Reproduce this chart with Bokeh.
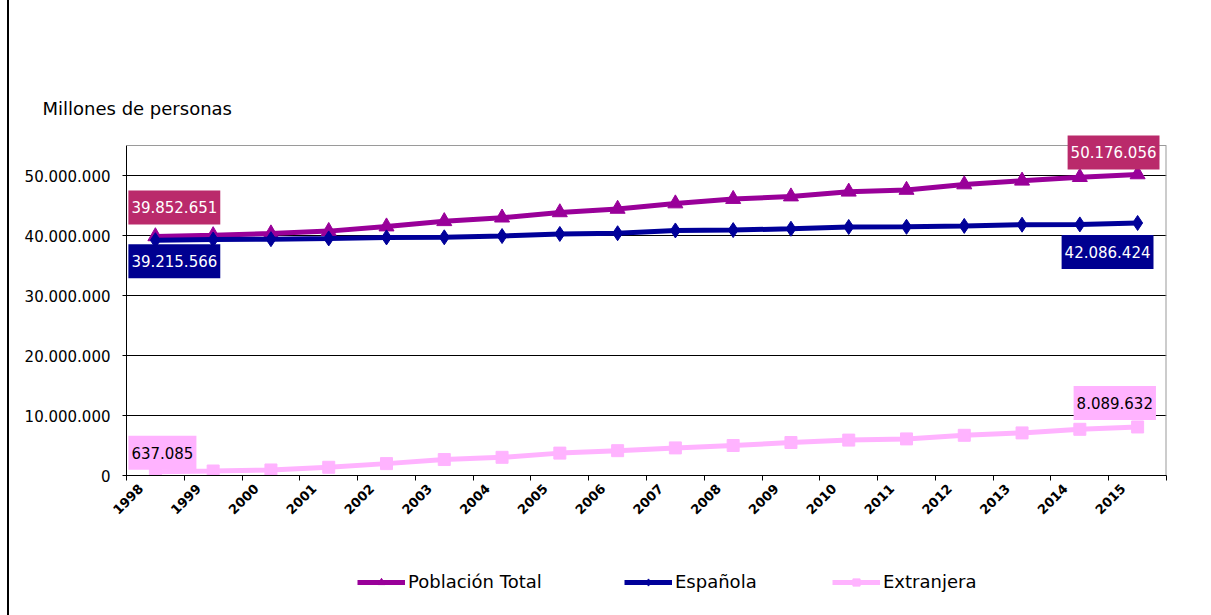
import math
from bokeh.plotting import figure
from bokeh.models import (FixedTicker, Label, Legend, LegendItem, Div, Range1d, Span, Title)
from bokeh.layouts import row, column
from bokeh.embed import file_html
from bokeh.resources import INLINE

# ---- data ----
years = [1998, 1999, 2000, 2001, 2002, 2003, 2004, 2005, 2006,
         2007, 2008, 2009, 2010, 2011, 2012, 2013, 2014, 2015]
year_labels = ["1998", "1999", "2000", "2001", "2002", "2003", "2004", "2005", "2006",
               "2007", "2008", "2009", "2010", "2011", "2012", "2013", "2014", "2015"]
total = [39852651, 40030000, 40330000, 40730000, 41490000, 42370000, 42970000, 43850000,
         44430000, 45330000, 46070000, 46490000, 47290000, 47590000, 48500000, 49120000,
         49720000, 50176056]
espanola = [39215566, 39330000, 39390000, 39510000, 39680000, 39700000, 39910000, 40260000,
            40380000, 40840000, 40900000, 41130000, 41420000, 41450000, 41600000, 41800000,
            41850000, 42086424]
extranjera = [637085, 750000, 920000, 1370000, 1980000, 2660000, 3030000, 3730000,
              4140000, 4600000, 5000000, 5500000, 5900000, 6100000, 6700000, 7100000,
              7700000, 8089632]
y_ticks = [0, 10000000, 20000000, 30000000, 40000000, 50000000]
y_axis_max = 55000000
series_names = ["Población Total", "Española", "Extranjera"]
y_title = "Millones de personas"

FONT = "DejaVu Sans"
C_TOTAL = "#990099"
C_ESP = "#000099"
C_EXT = "#FFB3FF"
C_TOTAL_LBL = "#BA2A6B"
C_ESP_LBL = "#000090"
C_BORDER = "#9A9A9A"


def fmt(v):
    return f"{int(v):,}".replace(",", ".")


DIV_W = 9
FRAME_LEFT = 126
FRAME_TOP = 130
FRAME_BOTTOM = 475
MAIN_H = 570
LEG_H = 615 - MAIN_H
px_per_unit = (FRAME_BOTTOM - 145) / y_axis_max
y_top = (FRAME_BOTTOM - FRAME_TOP) / px_per_unit

p = figure(width=1211 - DIV_W, height=MAIN_H, output_backend="svg", toolbar_location=None,
           x_range=Range1d(years[0] - 0.5, years[-1] + 0.5),
           y_range=Range1d(0, y_top),
           min_border_left=FRAME_LEFT - DIV_W, min_border_right=45,
           min_border_top=FRAME_TOP, min_border_bottom=MAIN_H - FRAME_BOTTOM)
p.background_fill_color = "white"
p.border_fill_color = "white"
p.outline_line_color = None

# title (above the plot, left side)
p.add_layout(Title(text=y_title, align="left", offset=42 - FRAME_LEFT, standoff=24,
                   text_font=FONT, text_font_size="18px", text_font_style="normal",
                   text_color="black"), "above")

# axes
p.xaxis.ticker = FixedTicker(ticks=[y - 0.25 for y in years],
                             minor_ticks=[y - 0.5 for y in years] + [years[-1] + 0.5])
p.xaxis.major_label_overrides = {y - 0.25: lab for y, lab in zip(years, year_labels)}
p.xaxis.major_label_orientation = math.pi / 4
p.xaxis.major_tick_in = 0
p.xaxis.major_tick_out = 0
p.xaxis.minor_tick_in = 0
p.xaxis.minor_tick_out = 5
p.xaxis.minor_tick_line_color = "black"
p.xaxis.axis_line_color = "black"
p.xaxis.major_label_standoff = 6
p.xaxis.major_label_text_font = FONT
p.xaxis.major_label_text_font_size = "13px"
p.xaxis.major_label_text_font_style = "bold"
p.xaxis.major_label_text_color = "black"

p.yaxis.ticker = FixedTicker(ticks=y_ticks)
p.yaxis.bounds = (0, y_axis_max)
p.yaxis.major_label_overrides = {t: fmt(t) for t in y_ticks}
p.yaxis.minor_tick_line_color = None
p.yaxis.major_tick_in = 4
p.yaxis.major_tick_out = 4
p.yaxis.major_tick_line_color = "black"
p.yaxis.axis_line_color = "black"
p.yaxis.major_label_standoff = 12
p.yaxis.major_label_text_font = FONT
p.yaxis.major_label_text_font_size = "15px"
p.yaxis.major_label_text_color = "black"

p.xgrid.visible = False
p.ygrid.grid_line_color = "black"
p.ygrid.grid_line_width = 1

# plot-area border (top and right, grey)
p.add_layout(Span(location=y_axis_max, dimension="width", line_color=C_BORDER, line_width=1))
p.segment(x0=[years[-1] + 0.5], y0=[0], x1=[years[-1] + 0.5], y1=[y_axis_max],
          line_color=C_BORDER, line_width=2)

# series
styles = [
    (total, C_TOTAL, "triangle", 15),
    (espanola, C_ESP, "diamond", 15),
    (extranjera, C_EXT, "square", 12),
]
for vals, col, mk, sz in styles:
    p.line(years, vals, line_color=col, line_width=5)
    p.scatter(years, vals, marker=mk, size=sz, fill_color=col, line_color=col)


# data labels
def add_label(x, y, text, bg, color, xo, yo):
    p.add_layout(Label(x=x, y=y, text=text, x_offset=xo, y_offset=yo,
                       text_align="left", text_baseline="middle",
                       text_font=FONT, text_font_size="15px", text_color=color,
                       background_fill_color=bg, padding=(3, 11)))


add_label(years[0], total[0], fmt(total[0]), C_TOTAL_LBL, "white", -27, 29)
add_label(years[0], espanola[0], fmt(espanola[0]), C_ESP_LBL, "white", -27, -21)
add_label(years[0], extranjera[0], fmt(extranjera[0]), C_EXT, "black", -27, 19)
add_label(years[-1], total[-1], fmt(total[-1]), C_TOTAL_LBL, "white", -70, 22)
add_label(years[-1], espanola[-1], fmt(espanola[-1]), C_ESP_LBL, "white", -76, -29)
add_label(years[-1], extranjera[-1], fmt(extranjera[-1]), C_EXT, "black", -64, 24)

# ---- legend strip (separate small figure under the chart; frames align in the column) ----
lg = figure(width=1211 - DIV_W, height=LEG_H, output_backend="svg", toolbar_location=None,
            x_range=Range1d(0, 1), y_range=Range1d(0, 1),
            min_border_left=FRAME_LEFT - DIV_W, min_border_right=45,
            min_border_top=0, min_border_bottom=0)
lg.axis.visible = False
lg.grid.visible = False
lg.outline_line_color = None
lg.background_fill_color = "white"
lg.border_fill_color = "white"

legend_x = [357, 624, 832]
legend_center_y = 583
for name, (vals, col, mk, sz), lx in zip(series_names, styles, legend_x):
    # proxy renderers placed outside the visible range; only used for the legend glyph
    rl = lg.line([-10, -9], [-10, -10], line_color=col, line_width=5)
    rm = lg.scatter([-10], [-10], marker=mk, size=sz - 4, fill_color=col, line_color=col)
    leg = Legend(items=[LegendItem(label=name, renderers=[rl, rm])],
                 location=(lx - FRAME_LEFT, 615 - (legend_center_y + 9)),
                 glyph_width=48, glyph_height=18, label_standoff=3,
                 padding=0, margin=0, border_line_color=None, background_fill_alpha=0,
                 label_text_font=FONT, label_text_font_size="18px",
                 label_text_color="black")
    lg.add_layout(leg)

div = Div(text="", width=DIV_W, height=615, margin=0,
          styles={"border-right": "2px solid black", "box-sizing": "border-box",
                  "height": "615px"})
layout = row(div, column(p, lg, spacing=0), spacing=0)

open("out.html", "w").write(file_html(layout, INLINE))
